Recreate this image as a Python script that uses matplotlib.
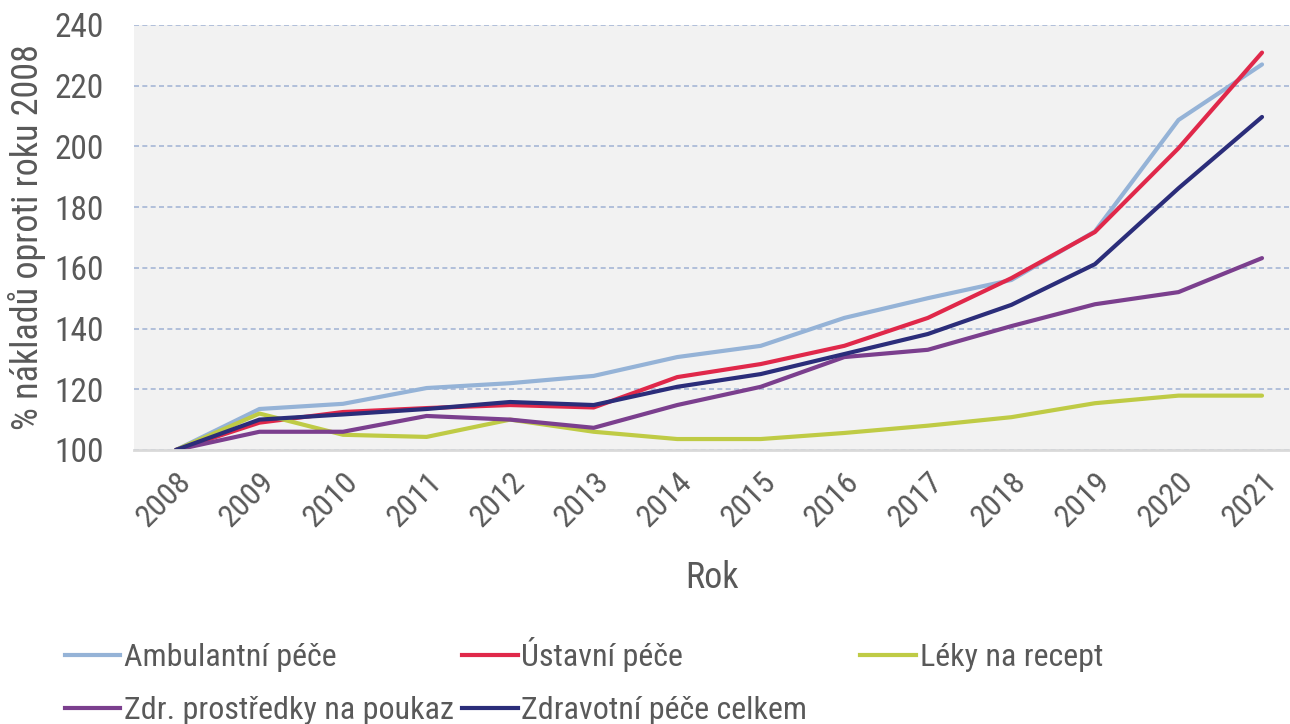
import matplotlib
matplotlib.use('Agg')
import matplotlib.pyplot as plt
from matplotlib.lines import Line2D

# data (% of 2008 costs)
years = [2008, 2009, 2010, 2011, 2012, 2013, 2014, 2015, 2016, 2017, 2018, 2019, 2020, 2021]
ambulantni = [100, 113.5, 115.2, 120.4, 122.0, 124.4, 130.6, 134.3, 143.5, 150.0, 156.0, 172.0, 208.7, 227.0]
ustavni = [100, 109.0, 112.5, 113.8, 114.8, 114.0, 124.0, 128.3, 134.3, 143.5, 156.6, 171.8, 199.4, 230.9]
leky = [100, 112.0, 105.0, 104.3, 110.0, 106.0, 103.6, 103.6, 105.6, 108.0, 110.8, 115.4, 117.9, 117.9]
zdr_prostredky = [100, 106.0, 106.0, 111.2, 110.0, 107.3, 114.8, 120.8, 130.6, 133.0, 140.8, 148.0, 152.0, 163.2]
celkem = [100, 110.0, 111.7, 113.5, 115.8, 114.8, 120.8, 125.0, 131.6, 138.2, 147.8, 161.2, 186.2, 209.7]

labels = ["Ambulantní péče", "Ústavní péče", "Léky na recept",
          "Zdr. prostředky na poukaz", "Zdravotní péče celkem"]
series = [ambulantni, ustavni, leky, zdr_prostredky, celkem]
colors = ["#95B3D7", "#E0284A", "#BFCB45", "#7B3F8E", "#2B2D7A"]

# narrow font if present, otherwise Arial-like Liberation Sans
plt.rcParams['font.family'] = ['Roboto Condensed', 'Liberation Sans Narrow', 'Liberation Sans', 'DejaVu Sans']
TXT = "#595959"

fig = plt.figure(figsize=(12.9, 7.24), dpi=100)
ax = fig.add_axes([0.104, 0.3785, 0.896, 0.587])
ax.set_facecolor("#F2F2F2")

for vals, lab, col in zip(series, labels, colors):
    ax.plot(years, vals, color=col, lw=3, label=lab, solid_capstyle='round')

ax.set_xlim(2007.5, 2021.335)
ax.set_ylim(100, 240)
ax.set_yticks(range(100, 241, 20))
ax.set_xticks(years)
ax.set_xticklabels([str(y) for y in years], rotation=45, ha='right',
                   rotation_mode='anchor')
ax.yaxis.grid(True, color="#A6B6D6", lw=1.2, linestyle=(0, (3, 2)))
ax.set_axisbelow(True)
for s in ['top', 'right', 'left']:
    ax.spines[s].set_visible(False)
ax.spines['bottom'].set_color("#D9D9D9")
ax.spines['bottom'].set_linewidth(2)
ax.tick_params(axis='y', length=0, pad=22, labelsize=24, labelcolor=TXT)
ax.tick_params(axis='x', length=0, pad=12, labelsize=23, labelcolor=TXT)

ax.set_xlabel("Rok", fontsize=26, color=TXT, labelpad=20)
ax.set_ylabel("% nákladů oproti roku 2008", fontsize=26, color=TXT, labelpad=6)

# legend: one small legend per entry at fixed spots, like Excel's layout
# (lower left so that the baselines line up, every label has a descender)
handles = [Line2D([], [], color=c, lw=3) for c in colors]
spots = [(0.05, 0.072), (0.358, 0.072), (0.667, 0.072),
         (0.05, -0.001), (0.358, -0.001)]
for h, lab, (x0, y0) in zip(handles, labels, spots):
    lg = fig.legend([h], [lab], loc='lower left', bbox_to_anchor=(x0, y0),
                    frameon=False, fontsize=23, handlelength=1.75,
                    handletextpad=0.1, borderaxespad=0, borderpad=0)
    lg.get_texts()[0].set_color(TXT)

fig.savefig("out.png", dpi=100)
